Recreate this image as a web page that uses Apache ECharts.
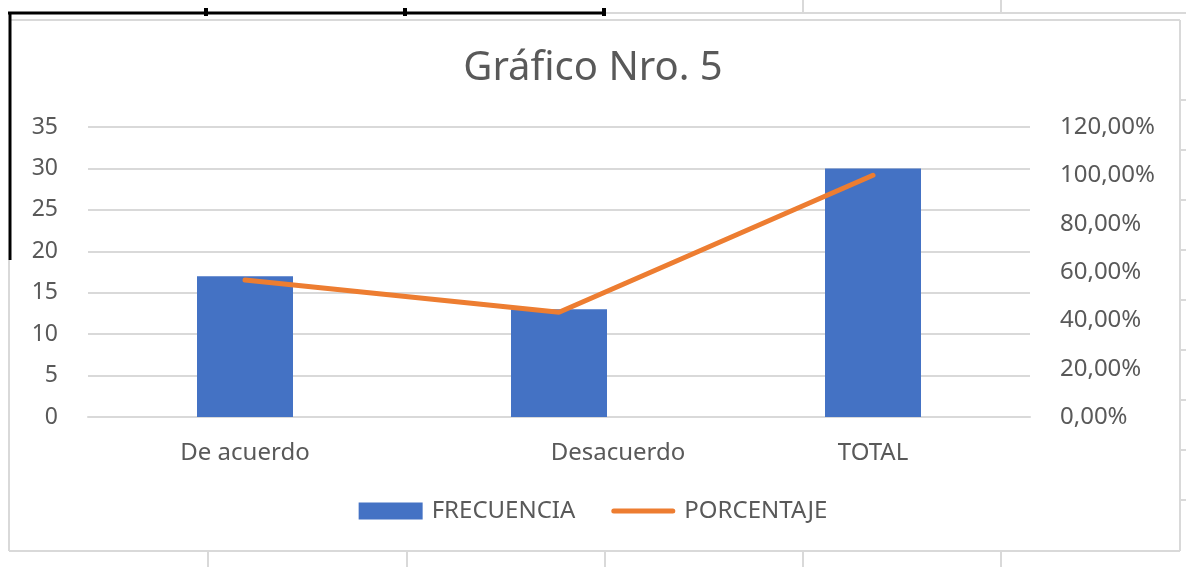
<!DOCTYPE html>
<html lang="es">
<head>
    <meta charset="utf-8" />
    <title>Gráfico Nro. 5</title>
    <script src="https://cdn.jsdelivr.net/npm/echarts@6/dist/echarts.min.js"></script>
    <style>
        html, body { margin: 0; padding: 0; background: #fff; }
        #chart { width: 1186px; height: 567px; }
    </style>
</head>
<body>
<div id="chart"></div>
<script>
    // datos
    var categorias = ['De acuerdo', 'Desacuerdo', 'TOTAL'];
    var frecuencia = [17, 13, 30];
    var porcentaje = [56.67, 43.33, 100];
    var ticksIzq = [0, 5, 10, 15, 20, 25, 30, 35];

    var fuente = 'Noto Sans';
    var gris = '#595959';

    // lineas de la hoja de calculo alrededor del grafico
    function linea(x1, y1, x2, y2, color, w) {
        return { type: 'line', silent: true, z: 100,
            shape: { x1: x1, y1: y1, x2: x2, y2: y2 },
            style: { stroke: color, lineWidth: w } };
    }
    var decor = [
        linea(9, 20, 1180, 20, '#d9d9d9', 2),
        linea(1180, 20, 1180, 551, '#d9d9d9', 2),
        linea(9, 551, 1180, 551, '#d9d9d9', 2),
        linea(9, 260, 9, 551, '#d9d9d9', 2),
        linea(605, 13, 1186, 13, '#d9d9d9', 2),
        linea(803, 0, 803, 13, '#d9d9d9', 2),
        linea(1001, 0, 1001, 13, '#d9d9d9', 2),
        linea(8, 13, 605, 13, '#000', 3),
        linea(10, 12, 10, 260, '#000', 3),
        linea(206, 8, 206, 16, '#000', 4),
        linea(405, 8, 405, 16, '#000', 4),
        linea(604, 8, 604, 16, '#000', 4)
    ];
    [208, 407, 605, 803, 1001].forEach(function (x) {
        decor.push(linea(x, 551, x, 567, '#d9d9d9', 2));
    });
    [100, 150, 200, 250, 300, 350, 400, 450, 500].forEach(function (y) {
        decor.push(linea(1180, y, 1186, y, '#d9d9d9', 2));
    });

    var myChart = echarts.init(document.getElementById('chart'));
    var option = {
        backgroundColor: '#fff',
        animation: false,
        textStyle: { fontFamily: fuente },
        title: {
            text: 'Gráfico Nro. 5',
            left: 'center',
            top: 44,
            textStyle: { fontFamily: fuente, fontSize: 40, fontWeight: 'normal', color: gris }
        },
        grid: { left: 88, right: 156, top: 127, bottom: 150 },
        legend: {
            bottom: 39,
            left: 'center',
            itemGap: 36,
            itemWidth: 64,
            itemHeight: 17,
            textStyle: { fontFamily: fuente, fontSize: 24, color: gris, padding: [0, 0, 0, 4] },
            data: [
                { name: 'FRECUENCIA', icon: 'rect' },
                { name: 'PORCENTAJE', icon: 'path://M2.5,0 H61.5 A2.5,2.5 0 0 1 61.5,5 H2.5 A2.5,2.5 0 0 1 2.5,0 Z' }
            ]
        },
        xAxis: {
            type: 'category',
            data: categorias,
            axisLine: { lineStyle: { color: '#d9d9d9', width: 2 } },
            axisTick: { show: false },
            axisLabel: {
                margin: 24,
                color: gris,
                fontFamily: fuente,
                fontSize: 24,
                formatter: function (v, i) {
                    return i === 1 ? '{d|' + v + '}' : v;
                },
                rich: { d: { fontFamily: fuente, fontSize: 24, color: gris, padding: [0, 0, 0, 118] } }
            }
        },
        yAxis: [
            {
                type: 'value',
                min: ticksIzq[0],
                max: ticksIzq[ticksIzq.length - 1],
                interval: 5,
                axisLine: { show: false },
                axisTick: { show: false },
                splitLine: { lineStyle: { color: '#d9d9d9', width: 2 } },
                axisLabel: { margin: 30, color: gris, fontFamily: fuente, fontSize: 23 }
            },
            {
                type: 'value',
                min: 0,
                max: 120,
                interval: 20,
                axisLine: { show: false },
                axisTick: { show: false },
                splitLine: { show: false },
                axisLabel: {
                    margin: 30,
                    color: gris,
                    fontFamily: fuente,
                    fontSize: 24,
                    formatter: function (v) { return v.toFixed(2).replace('.', ',') + '%'; }
                }
            }
        ],
        series: [
            {
                name: 'FRECUENCIA',
                type: 'bar',
                data: frecuencia,
                barWidth: 96,
                itemStyle: { color: '#4472C4' }
            },
            {
                name: 'PORCENTAJE',
                type: 'line',
                yAxisIndex: 1,
                data: porcentaje,
                symbol: 'none',
                lineStyle: { color: '#ED7D31', width: 5, cap: 'round' },
                itemStyle: { color: '#ED7D31' }
            }
        ],
        graphic: decor
    };
    myChart.setOption(option);
</script>
</body>
</html>
